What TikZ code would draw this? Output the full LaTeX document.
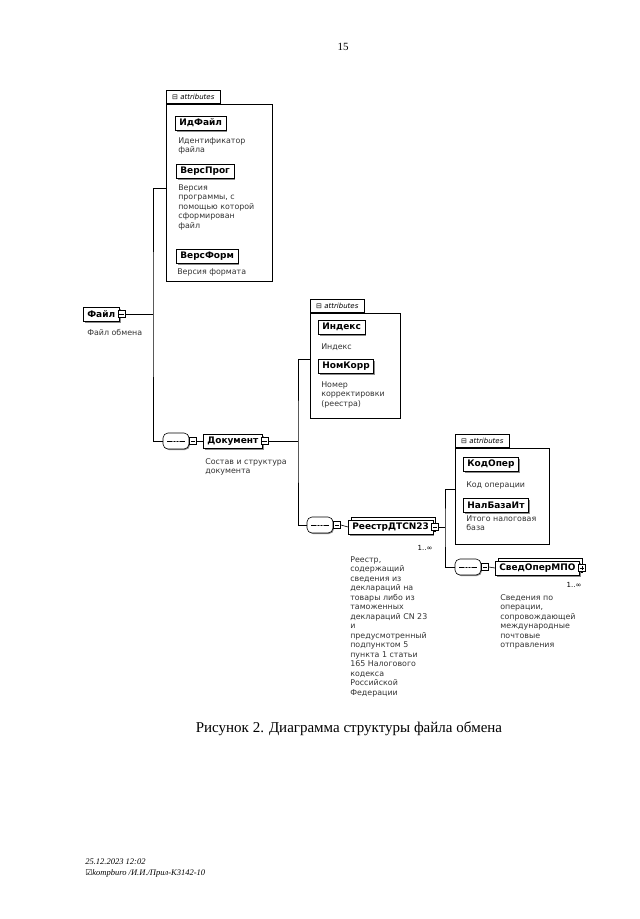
\documentclass[tikz,border=0pt]{standalone}
\usepackage{fontspec}
\setmainfont{Liberation Serif}
\newfontfamily\diafont{DejaVu Sans}
\usetikzlibrary{shadows}

\tikzset{
  elem/.style={draw,fill=white,anchor=west,inner xsep=4pt,inner ysep=0pt,minimum height=14pt,
    font=\diafont\bfseries\fontsize{9}{10}\selectfont,
    general shadow={fill=black!45,shadow xshift=1.5pt,shadow yshift=-1.5pt}},
  multi/.style={draw,fill=white,anchor=west,inner xsep=4pt,inner ysep=0pt,minimum height=14pt,
    font=\diafont\bfseries\fontsize{9}{10}\selectfont,
    copy shadow={shadow xshift=2.5pt,shadow yshift=2.5pt},
    general shadow={fill=black!45,shadow xshift=1.5pt,shadow yshift=-1.5pt}},
  desc/.style={anchor=north west,align=left,inner sep=0pt,text=black!80,
    font=\diafont\fontsize{7.9}{9.5}\selectfont},
  mbox/.style={draw,fill=white,minimum size=7pt,inner sep=0pt,
    path picture={\draw ([xshift=1.3pt]path picture bounding box.west) -- ([xshift=-1.3pt]path picture bounding box.east);}},
  pbox/.style={draw,fill=white,minimum size=7pt,inner sep=0pt,
    path picture={\draw ([xshift=1.3pt]path picture bounding box.west) -- ([xshift=-1.3pt]path picture bounding box.east);
      \draw ([yshift=1.3pt]path picture bounding box.south) -- ([yshift=-1.3pt]path picture bounding box.north);}},
  seq/.style={rectangle,rounded corners=5pt,draw,fill=white,minimum width=26pt,minimum height=16pt,inner sep=0pt,
    general shadow={fill=black!45,shadow xshift=1pt,shadow yshift=-1pt},
    path picture={\draw[sharp corners] ([xshift=4pt]path picture bounding box.west) -- ([xshift=-4pt]path picture bounding box.east);
      \foreach \d in {-3,0,3} \fill[sharp corners] ([xshift=\d pt]path picture bounding box.center) circle (0.9pt);}},
  abox/.style={draw,anchor=north west,inner sep=0pt},
  atab/.style={draw,anchor=south west,minimum width=54pt,minimum height=13pt,inner sep=1pt,
    font=\diafont\fontsize{7}{8}\selectfont},
  occ/.style={inner sep=0pt,font=\diafont\fontsize{7}{8}\selectfont}
}

\begin{document}
\begin{tikzpicture}[x=1pt,y=-1pt,line width=0.6pt]
\useasboundingbox (0,0) rectangle (640,919);
\node[font=\fontsize{11}{13}\selectfont] (pg) at (343,47) {15};

\node[abox,minimum width=106pt,minimum height=177pt] (a1) at (166,104) {};
\node[atab] (a1t) at (166,104) {⊟ \textit{attributes}};
\node[abox,minimum width=90pt,minimum height=105pt] (a2) at (310,313) {};
\node[atab] (a2t) at (310,313) {⊟ \textit{attributes}};
\node[abox,minimum width=94pt,minimum height=96pt] (a3) at (455,448) {};
\node[atab] (a3t) at (455,448) {⊟ \textit{attributes}};

\node[elem] (fajl) at (83,314) {Файл};
\node[mbox] (mfajl) at ([xshift=2pt]fajl.east) {};
\node[desc] (dfajl) at (87,329) {Файл обмена};

\node[elem] (idf) at (175,123) {ИдФайл};
\node[desc] (didf) at (178,137) {Идентификатор\\файла};
\node[elem] (vp) at (176,171) {ВерсПрог};
\node[desc] (dvp) at (178,184) {Версия\\программы, с\\помощью которой\\сформирован\\файл};
\node[elem] (vf) at (176,256) {ВерсФорм};
\node[desc] (dvf) at (177,268) {Версия формата};

\node[seq] (s1) at (176,441) {};
\node[mbox,anchor=west] (ms1) at (s1.east) {};
\node[elem] (doc) at (203,441) {Документ};
\node[mbox] (mdoc) at ([xshift=2pt]doc.east) {};
\node[desc] (ddoc) at (205,458) {Состав и структура\\документа};

\node[elem] (ind) at (318,327) {Индекс};
\node[desc] (dind) at (321,343) {Индекс};
\node[elem] (nk) at (318,366) {НомКорр};
\node[desc] (dnk) at (321,381) {Номер\\корректировки\\(реестра)};

\node[seq] (s2) at (320,525) {};
\node[mbox,anchor=west] (ms2) at (s2.east) {};
\node[multi] (reg) at (348,527) {РеестрДТСN23};
\node[mbox] (mreg) at ([xshift=2pt]reg.east) {};
\node[occ] (oreg) at (425,548) {1..∞};
\node[desc] (dreg) at (350,556) {Реестр,\\содержащий\\сведения из\\деклараций на\\товары либо из\\таможенных\\деклараций CN 23\\и\\предусмотренный\\подпунктом 5\\пункта 1 статьи\\165 Налогового\\кодекса\\Российской\\Федерации};

\node[elem] (ko) at (463,464) {КодОпер};
\node[desc] (dko) at (466,481) {Код операции};
\node[elem] (nb) at (463,505) {НалБазаИт};
\node[desc] (dnb) at (466,515) {Итого налоговая\\база};

\node[seq] (s3) at (468,567) {};
\node[mbox,anchor=west] (ms3) at (s3.east) {};
\node[multi] (svm) at (495,568) {СведОперМПО};
\node[pbox] (psvm) at ([xshift=2pt]svm.east) {};
\node[occ] (osvm) at (574,585) {1..∞};
\node[desc] (dsvm) at (500,594) {Сведения по\\операции,\\сопровождающей\\международные\\почтовые\\отправления};

\coordinate (j1) at (153,314);
\draw (mfajl.east) -- (j1);
\draw ([yshift=5pt]a1.west) -| (j1) |- (s1.west);
\draw (ms1.east) -- (doc.west);
\coordinate (j2) at (298,441);
\draw (mdoc.east) -- (j2);
\draw ([yshift=7pt]a2.west) -| (j2) |- (s2.west);
\draw (ms2.east) -- (reg.west);
\coordinate (j3) at (445,527);
\draw (mreg.east) -- (j3);
\draw ([yshift=7pt]a3.west) -| (j3) |- (s3.west);
\draw (ms3.east) -- (svm.west);

\node[font=\fontsize{15}{17}\selectfont] (cap) at (349,729) {Рисунок 2. Диаграмма структуры файла обмена};
\node[anchor=west,inner sep=0pt,font=\itshape\fontsize{8.5}{9}\selectfont] (f1) at (85,862) {25.12.2023 12:02};
\node[anchor=west,inner sep=0pt,font=\itshape\fontsize{8.5}{9}\selectfont] (f2) at (85,873) {{\diafont\fontsize{8}{8}\selectfont ☑}kompburo /И.И./Прил-К3142-10};
\end{tikzpicture}
\end{document}
